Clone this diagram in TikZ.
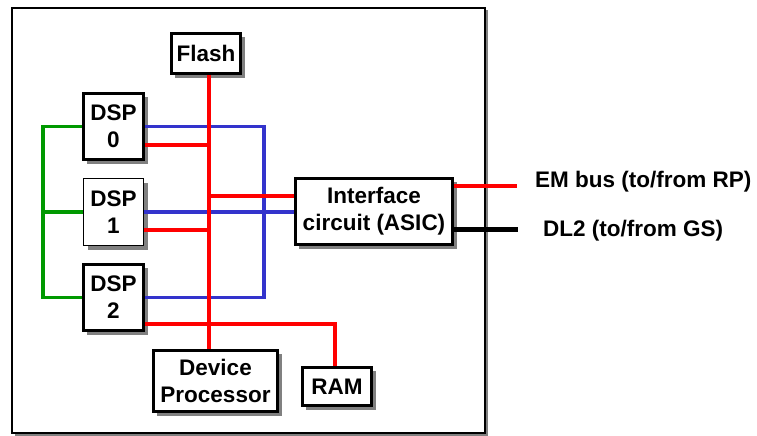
\documentclass[tikz,border=0pt]{standalone}
\usepackage{fontspec}
\setmainfont{Liberation Sans}
\usetikzlibrary{shadows}
\definecolor{busred}{RGB}{255,0,0}
\definecolor{busblue}{RGB}{51,51,204}
\definecolor{busgreen}{RGB}{0,153,0}
\definecolor{shade}{RGB}{128,128,128}

\begin{document}
\begin{tikzpicture}[x=1pt, y=-1pt,
    unit/.style={draw, line width=2.8pt, fill=white, align=center, inner sep=0pt,
        font=\bfseries\fontsize{22.5}{27}\selectfont,
        drop shadow={shadow xshift=4pt, shadow yshift=-4pt, fill=shade, opacity=1}},
    board/.style={draw, line width=2.4pt, fill=white, inner sep=0pt,
        drop shadow={shadow xshift=2.5pt, shadow yshift=-2.5pt, fill=shade, opacity=1}},
    tag/.style={anchor=west, inner sep=0pt, font=\bfseries\fontsize{22.5}{27}\selectfont},
    bus/.style={line width=3.2pt},
    rbus/.style={bus, draw=busred},
    bbus/.style={bus, draw=busblue},
    gbus/.style={bus, draw=busgreen},
    kbus/.style={draw=black, line width=5pt}]
    \useasboundingbox (0,0) rectangle (757,436);
    % board outline
    \node[board, minimum width=473pt, minimum height=425pt] (board) at (248.5,220.5) {};
    % units
    \node[unit, minimum width=69.2pt, minimum height=40.2pt] (flash) at (206,53.5) {Flash};
    \node[unit, minimum width=60.2pt, minimum height=66.2pt] (dsp0) at (113.5,126.5) {DSP\\0};
    \node[unit, line width=1.2pt, minimum width=60pt, minimum height=67pt] (dsp1) at (113.5,212) {DSP\\1};
    \node[unit, minimum width=60.2pt, minimum height=66.2pt] (dsp2) at (113.5,297.5) {DSP\\2};
    \node[unit, minimum width=124.2pt, minimum height=61.2pt] (dev) at (215.5,381) {Device\\Processor};
    \node[unit, minimum width=69.2pt, minimum height=38.2pt] (ram) at (337,386.5) {RAM};
    \node[unit, minimum width=157.2pt, minimum height=66.2pt] (asic) at (374,211.5) {Interface\\circuit (ASIC)};
    % bus columns
    \coordinate (gL) at (43,0);
    \coordinate (bR) at (264,0);
    \coordinate (rC) at (209,0);
    \coordinate (ramC) at (335,0);
    % blue bus
    \draw[bbus] (dsp0.east) -- (dsp0.east -| bR) -- (dsp2.east -| bR) -- (dsp2.east);
    \draw[bbus] (dsp1.east) -- (asic.west |- dsp1.east);
    % green bus
    \draw[gbus] (dsp0.west) -- (dsp0.west -| gL) -- (dsp2.west -| gL) -- (dsp2.west);
    \draw[gbus] (dsp1.west) -- (dsp1.west -| gL);
    % red bus
    \draw[rbus] (flash.south -| rC) -- (dev.north -| rC);
    \draw[rbus] ([yshift=-18.5pt]dsp0.east) -- ([yshift=-18.5pt]dsp0.east -| rC);
    \draw[rbus] ([yshift=-18pt]dsp1.east) -- ([yshift=-18pt]dsp1.east -| rC);
    \draw[rbus] ([yshift=15.5pt]asic.west) -- ([yshift=15.5pt]asic.west -| rC);
    \draw[rbus] ([yshift=-26.5pt]dsp2.east) -- ([yshift=-26.5pt]dsp2.east -| ramC) -- (ram.north -| ramC);
    % external links
    \node[tag] (em) at (535,182) {EM bus (to/from RP)};
    \node[tag] (dl) at (543,231) {DL2 (to/from GS)};
    \coordinate (emEnd) at (517,186);
    \coordinate (dlEnd) at (518,229);
    \draw[rbus] (asic.east |- emEnd) -- (emEnd);
    \draw[kbus] (asic.east |- dlEnd) -- (dlEnd);
\end{tikzpicture}
\end{document}
